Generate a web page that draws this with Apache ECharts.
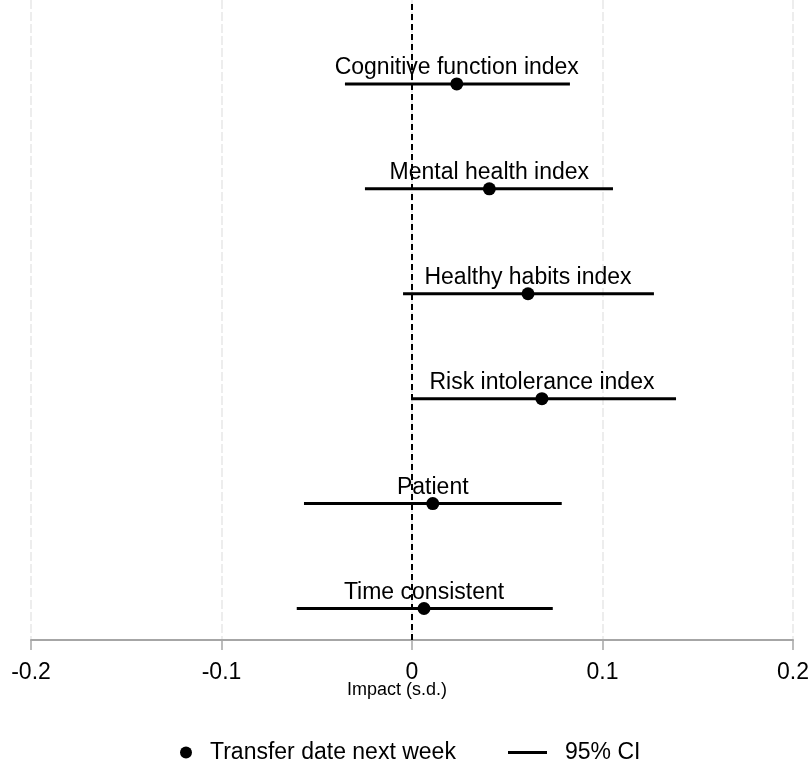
<!DOCTYPE html>
<html>
<head>
<meta charset="utf-8">
<title>Impact estimates</title>
<script src="https://cdn.jsdelivr.net/npm/echarts@6/dist/echarts.min.js"></script>
<style>
  html, body { margin: 0; padding: 0; background: #ffffff; }
  #chart { width: 812px; height: 769px; }
</style>
</head>
<body>
<div id="chart"></div>
<script>
// Outcomes listed top to bottom, with point estimates and 95% confidence bounds (s.d. units)
const outcomes = [
  'Cognitive function index',
  'Mental health index',
  'Healthy habits index',
  'Risk intolerance index',
  'Patient',
  'Time consistent'
];
const estimates = [0.0235, 0.0406, 0.0609, 0.0682, 0.0109, 0.0063];
const ciLow = [-0.0352, -0.0247, -0.0047, -0.0005, -0.0567, -0.0605];
const ciHigh = [0.0829, 0.1055, 0.1270, 0.1386, 0.0786, 0.0739];
const xTicks = [-0.2, -0.1, 0, 0.1, 0.2];

const FONT = 'Liberation Sans, Arial, Helvetica, sans-serif';

// Row position: first outcome sits highest
const rowPos = outcomes.map((_, i) => outcomes.length - i);

const pointData = outcomes.map((name, i) => ({ name: name, value: [estimates[i], rowPos[i]] }));
const ciData = outcomes.map((name, i) => [ciLow[i], ciHigh[i], rowPos[i]]);

const chart = echarts.init(document.getElementById('chart'));

chart.setOption({
  animation: false,
  backgroundColor: '#ffffff',
  textStyle: { fontFamily: FONT },
  grid: { left: 31, right: 19, top: 0, bottom: 129, containLabel: false },
  xAxis: {
    type: 'value',
    min: xTicks[0],
    max: xTicks[xTicks.length - 1],
    interval: 0.1,
    name: 'Impact (s.d.)',
    nameLocation: 'middle',
    nameGap: 41,
    nameMoveOverlap: false,
    nameTextStyle: { fontSize: 18, color: '#000', fontFamily: FONT, padding: [0, 30, 0, 0] },
    axisLine: { show: true, lineStyle: { color: '#a6a6a6', width: 2 } },
    axisTick: { show: true, length: 10, lineStyle: { color: '#a6a6a6', width: 1.5 } },
    axisLabel: {
      margin: 21,
      fontSize: 23,
      color: '#000',
      fontFamily: FONT,
      formatter: v => String(Math.round(v * 10) / 10)
    },
    splitLine: { show: true, lineStyle: { color: '#e8e8e8', width: 1.5, type: [9, 3] } }
  },
  yAxis: {
    type: 'value',
    min: 0.7,
    max: 6.8,
    show: false
  },
  legend: [
    {
      data: [{ name: 'Transfer date next week', icon: 'circle' }],
      left: 180,
      top: 741,
      padding: 0,
      itemWidth: 12,
      itemHeight: 12,
      textStyle: { fontSize: 23, color: '#000', fontFamily: FONT, padding: [0, 0, 0, 13] }
    },
    {
      data: [{ name: '95% CI', icon: 'rect' }],
      left: 508,
      top: 741,
      padding: 0,
      itemWidth: 39,
      itemHeight: 3,
      textStyle: { fontSize: 23, color: '#000', fontFamily: FONT, padding: [0, 0, 0, 13] }
    }
  ],
  series: [
    {
      name: '95% CI',
      type: 'custom',
      itemStyle: { color: '#000' },
      encode: { x: [0, 1], y: 2 },
      data: ciData,
      renderItem: function (params, api) {
        const a = api.coord([api.value(0), api.value(2)]);
        const b = api.coord([api.value(1), api.value(2)]);
        return {
          type: 'line',
          shape: { x1: a[0], y1: a[1], x2: b[0], y2: b[1] },
          style: { stroke: '#000', lineWidth: 3 }
        };
      },
      markLine: {
        silent: true,
        symbol: 'none',
        label: { show: false },
        lineStyle: { color: '#000', width: 2, type: [6, 4] },
        data: [{ xAxis: 0 }]
      },
      z: 2
    },
    {
      name: 'Transfer date next week',
      type: 'scatter',
      symbol: 'circle',
      symbolSize: 13,
      itemStyle: { color: '#000', opacity: 1 },
      data: pointData,
      label: {
        show: true,
        position: 'top',
        distance: -2,
        formatter: p => p.name,
        fontSize: 23,
        color: '#000',
        fontFamily: FONT
      },
      z: 3
    }
  ]
});
</script>
</body>
</html>
